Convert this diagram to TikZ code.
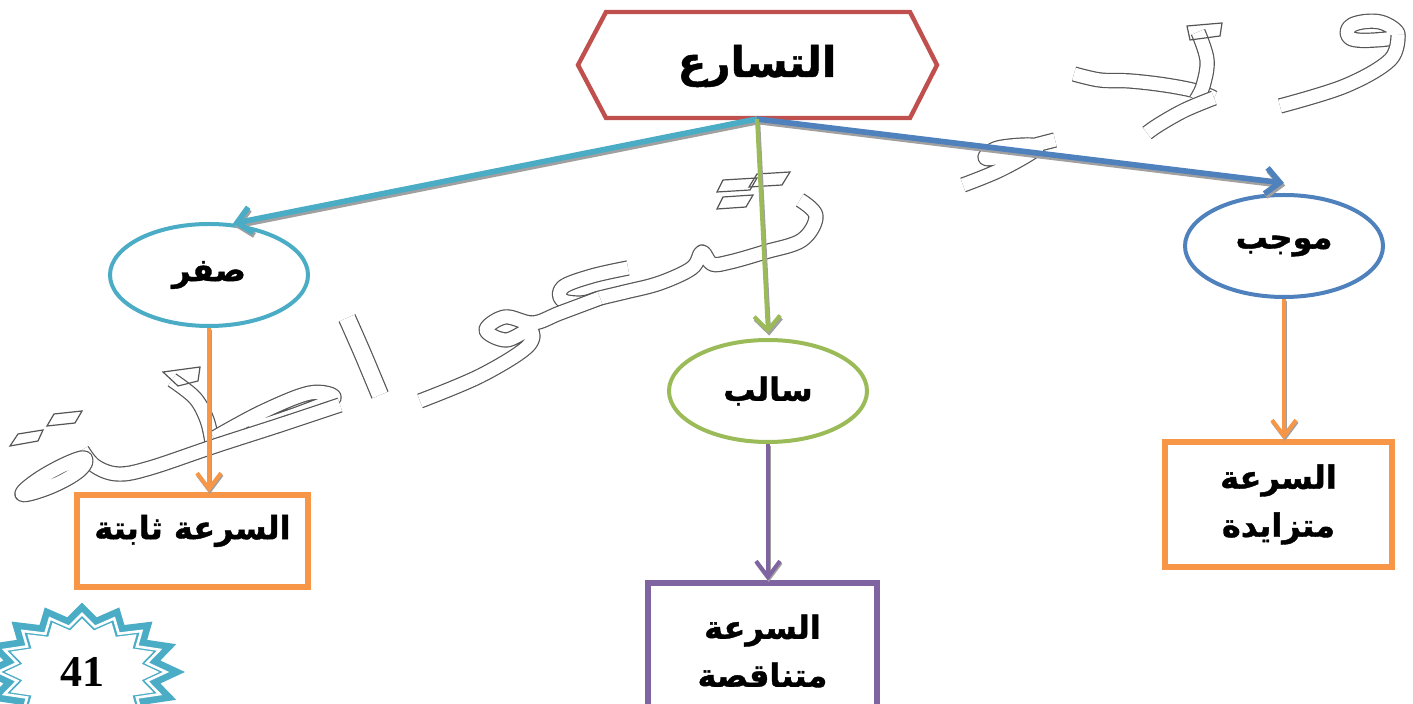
\documentclass[tikz,border=0pt]{standalone}
\usepackage{fontspec}
\usetikzlibrary{arrows.meta,shapes.geometric}
\TeXXeTstate=1
\newfontfamily\arabicfont[Script=Arabic, BoldFeatures={FakeBold=1.2}]{DejaVu Sans}
\newfontfamily\numfont{Liberation Serif}
\definecolor{hexred}{HTML}{C0504D}
\definecolor{tealc}{HTML}{4BACC6}
\definecolor{greenc}{HTML}{9BBB59}
\definecolor{bluec}{HTML}{4F81BD}
\definecolor{orangec}{HTML}{F79646}
\definecolor{purplec}{HTML}{8064A2}
\definecolor{shadowgray}{HTML}{A0A0A0}
\definecolor{wmgray}{HTML}{555555}
\begin{document}
\begin{tikzpicture}[x=0.5pt,y=-0.5pt,
  lbl/.style={font=\arabicfont\bfseries\fontsize{16}{22}\selectfont, text=black},
  ell/.style={ellipse, draw, line width=2pt, fill=white, minimum width=99pt, minimum height=51pt, inner sep=0pt, lbl},
  box/.style={rectangle, draw, line width=2.6pt, fill=white, align=center, inner sep=0pt, lbl},
  arr/.style={line width=2.8pt, -{Straight Barb[length=7pt,width=13pt]}},
  shad/.style={arr, draw=shadowgray, transform canvas={shift={(0.6pt,-1.3pt)}}},
  varr/.style={line width=2pt, -{Straight Barb[length=8pt,width=12pt]}},
  vshad/.style={varr, draw=shadowgray, transform canvas={shift={(0.4pt,-0.8pt)}}},
  wm/.style={draw=wmgray, line width=0.6pt, double=white, double distance=6.5pt, line cap=butt, line join=round},
  wmthin/.style={draw=wmgray, line width=0.6pt, line join=miter},
]
\useasboundingbox (0,0) rectangle (1413,704);
\clip (0,0) rectangle (1413,704);
\fill[white] (0,0) rectangle (1413,704);

% ---- hollow watermark strokes ----
% middle word
\draw[wm] plot[smooth, tension=0.6] coordinates {(800,200) (816,216) (802,240) (765,252) (730,262) (712,264) (702,252) (692,268) (660,283) (625,292) (600,298) (582,303) (562,300) (563,287) (592,276) (628,268)};
\draw[wm] plot[smooth, tension=0.6] coordinates {(600,298) (560,313) (533,323) (505,317) (486,330) (506,340) (530,330) (527,347) (480,376) (420,401)};
\draw[wmthin] (723,180) -- (757,178) -- (750,190) -- (717,192) -- cycle;
\draw[wmthin] (757,174) -- (790,172) -- (782,185) -- (749,187) -- cycle;
\draw[wmthin] (723,197) -- (753,195) -- (746,207) -- (717,209) -- cycle;
% alef
\draw[wm, double distance=8pt] plot[smooth] coordinates {(347,318) (362,352) (380,395)};
% left letters
\draw[wm] plot[smooth, tension=0.6] coordinates {(172,380) (195,398) (207,420) (212,442)};
\draw[wmthin] (163,372) -- (200,367) -- (198,381) -- (178,386) -- cycle;
\draw[wm] plot[smooth, tension=0.6] coordinates {(214,438) (262,412) (310,393) (334,398) (300,413) (250,430)};
\draw[wm] plot[smooth, tension=0.6] coordinates {(340,405) (280,425) (215,446) (150,468) (118,474) (95,466) (82,450)};
\draw[wm] plot[smooth cycle, tension=0.7] coordinates {(82,458) (45,475) (22,494) (50,487) (80,470)};
\draw[wmthin] (10,446) -- (18,434) -- (43,430) -- (38,441) -- cycle;
\draw[wmthin] (47,426) -- (54,414) -- (82,411) -- (75,423) -- cycle;
% top right letters
\draw[wm] plot[smooth cycle, tension=0.7] coordinates {(1398,35) (1380,22) (1352,25) (1350,38) (1375,40)};
\draw[wm] plot[smooth, tension=0.6] coordinates {(1398,35) (1390,60) (1345,86) (1280,106)};
\draw[wm] plot[smooth, tension=0.6] coordinates {(1074,74) (1100,80) (1130,81) (1165,85) (1196,91) (1214,98)};
\draw[wm] plot[smooth, tension=0.6] coordinates {(1198,32) (1207,60) (1203,86) (1196,100)};
\draw[wmthin] (1187,26) -- (1222,23) -- (1220,36) -- (1190,40) -- cycle;
\draw[wm] plot[smooth, tension=0.6] coordinates {(1214,98) (1185,110) (1160,124) (1147,133)};
\draw[wm] plot[smooth, tension=0.6] coordinates {(1055,140) (1025,148) (995,158) (985,157) (998,148) (1030,145) (1035,150) (1000,170) (963,185)};

% ---- top hexagon ----
\draw[hexred, line width=2.2pt, line join=miter] (578,65) -- (606,12) -- (910,12) -- (937,65) -- (910,118) -- (606,118) -- cycle;
\node[lbl, font=\arabicfont\bfseries\fontsize{21}{26}\selectfont] (acc) at (757,66) {\beginR التسارع\endR};
\coordinate (src) at (757,119);

% ellipses
\node[ell, draw=tealc] (zero) at (209,275) {\beginR صفر\endR};
\node[ell, draw=greenc] (neg) at (768,391) {\beginR سالب\endR};
\node[ell, draw=bluec] (pos) at (1284,246) {\beginR موجب\endR};

% boxes
\node[box, draw=orangec, minimum width=115.5pt, minimum height=46pt, text depth=14pt] (c1) at (192.5,541) {\beginR السرعة ثابتة\endR};
\node[box, draw=purplec, minimum width=114.5pt, minimum height=68pt] (c2) at (762.5,651) {\beginR السرعة\endR\\[2pt]\beginR متناقصة\endR};
\node[box, draw=orangec, minimum width=113.5pt, minimum height=62.5pt] (c3) at (1278.5,504.5) {\beginR السرعة\endR\\[2pt]\beginR متزايدة\endR};

% main arrows with shadows
\draw[shad] (src) -- (zero.65);
\draw[shad] (src) -- ([yshift=5pt]pos.north);
\draw[shad, line width=2pt] (src) -- ([yshift=2.5pt]neg.north);
\draw[arr, tealc] (src) -- (zero.65);
\draw[arr, bluec] (src) -- ([yshift=5pt]pos.north);
\draw[arr, greenc, line width=2pt] (src) -- ([yshift=2.5pt]neg.north);

% vertical arrows
\draw[vshad] (zero.south) -- (zero.south |- c1.north);
\draw[vshad] (neg.south) -- (neg.south |- c2.north);
\draw[vshad] (pos.south) -- (pos.south |- c3.north);
\draw[varr, orangec] (zero.south) -- (zero.south |- c1.north);
\draw[varr, purplec] (neg.south) -- (neg.south |- c2.north);
\draw[varr, orangec] (pos.south) -- (pos.south |- c3.north);

% starburst badge
\filldraw[tealc, line width=8pt, line join=miter, miter limit=3] plot[samples at={0,...,31}, variable=\k] ({82+ifthenelse(mod(\k,2)==0,84,66)*cos(90+\k*11.25)}, {672-ifthenelse(mod(\k,2)==0,58,46)*sin(90+\k*11.25)}) -- cycle;
\draw[white, line width=1.3pt, line join=miter] plot[samples at={0,...,31}, variable=\k] ({82+ifthenelse(mod(\k,2)==0,84,66)*cos(90+\k*11.25)}, {672-ifthenelse(mod(\k,2)==0,58,46)*sin(90+\k*11.25)}) -- cycle;
\fill[white] plot[samples at={0,...,31}, variable=\k] ({82+0.92*ifthenelse(mod(\k,2)==0,84,66)*cos(90+\k*11.25)}, {672-0.92*ifthenelse(mod(\k,2)==0,58,46)*sin(90+\k*11.25)}) -- cycle;
\node[font=\numfont\bfseries\fontsize{22}{24}\selectfont] (badge) at (82,672) {41};
\end{tikzpicture}
\end{document}
